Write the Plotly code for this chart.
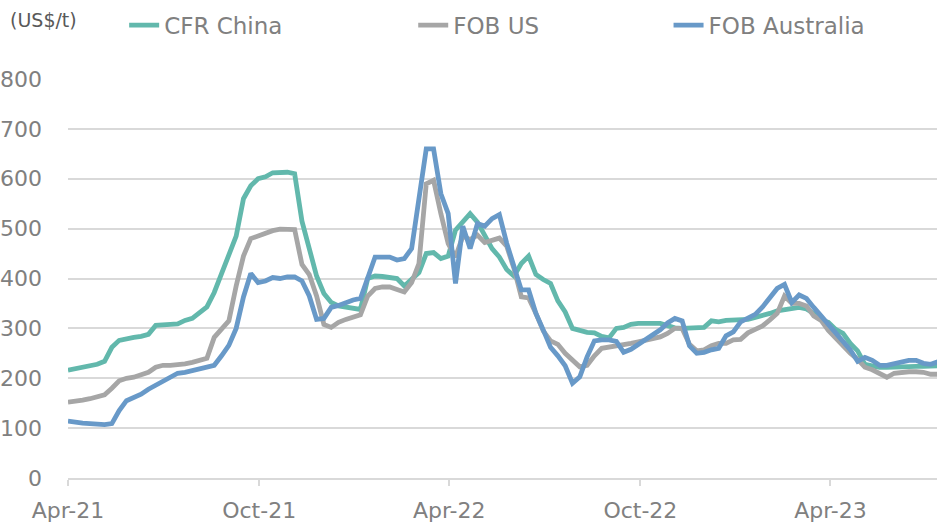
import pandas as pd
import plotly.graph_objects as go

dates = pd.date_range("2021-04-01", periods=120, freq="7D")

cfr_china = [
    216, 219, 222, 225, 228, 234, 262, 276, 280, 282,
    284, 288, 306, 308, 308, 309, 316, 320, 333, 343,
    372, 410, 445, 485, 560, 586, 600, 604, 612, 613,
    613, 610, 515, 460, 405, 370, 352, 345, 342, 340,
    338, 400, 405, 404, 403, 400, 385, 398, 412, 450,
    452, 440, 445, 497, 515, 530, 513, 487, 460, 443,
    418, 405, 430, 445, 408, 398, 390, 355, 333, 300,
    296, 292, 291, 284, 281, 300, 302, 308, 310, 311,
    310, 310, 306, 301, 300, 300, 300, 302, 315, 313,
    316, 316, 316, 318, 322, 325, 330, 335, 338, 341,
    342, 339, 330, 317, 312, 298, 290, 270, 255, 228,
    225, 222, 222, 223, 224, 224, 224, 224, 224, 225,
]

fob_us = [
    152, 153, 156, 159, 162, 167, 180, 195, 200, 202,
    207, 212, 222, 226, 226, 227, 229, 232, 236, 240,
    282, 300, 315, 385, 445, 480, 486, 492, 496, 499,
    499, 498, 428, 408, 365, 308, 302, 312, 318, 322,
    327, 365, 380, 383, 383, 378, 373, 392, 430, 590,
    597, 530, 470, 443, 485, 478, 487, 472, 477, 481,
    465, 420, 363, 361, 330, 295, 275, 268, 250, 235,
    223, 226, 245, 260, 262, 264, 267, 270, 273, 276,
    278, 283, 290, 300, 300, 268, 255, 257, 265, 270,
    270, 277, 278, 291, 298, 305, 317, 330, 365, 350,
    350, 345, 325, 316, 296, 280, 265, 250, 238, 222,
    217, 210, 202, 210, 212, 213, 213, 212, 208, 208,
]

fob_australia = [
    114, 111, 110, 109, 108, 107, 109, 135, 155, 162,
    168, 178, 186, 195, 203, 210, 212, 216, 220, 223,
    226, 245, 266, 300, 363, 410, 392, 395, 402, 400,
    403, 403, 395, 365, 318, 320, 342, 346, 352, 357,
    360, 405, 443, 443, 443, 437, 440, 460, 560, 660,
    660, 570, 530, 390, 505, 460, 510, 505, 520, 528,
    471, 420, 377, 377, 330, 297, 262, 245, 225, 190,
    203, 243, 275, 277, 277, 274, 252, 258, 268, 278,
    288, 297, 311, 320, 315, 265, 250, 252, 257, 260,
    285, 293, 313, 320, 328, 343, 362, 380, 388, 352,
    367, 360, 342, 325, 310, 293, 275, 257, 234, 242,
    236, 226, 226, 230, 234, 236, 236, 230, 228, 233,
]

series_names = ["CFR China", "FOB US", "FOB Australia"]
series_values = [cfr_china, fob_us, fob_australia]
colors = ["#62B8AC", "#A6A6A6", "#6899C8"]
legend_ids = ["legend", "legend2", "legend3"]

y_ticks = [0, 100, 200, 300, 400, 500, 600, 700, 800]

fig = go.Figure()
for name, vals, col, lg in zip(series_names, series_values, colors, legend_ids):
    fig.add_trace(go.Scatter(
        x=dates, y=vals, mode="lines", name=name,
        line=dict(color=col, width=4.8),
        legend=lg,
    ))

font_family = "DejaVu Sans, Verdana, sans-serif"
legend_common = dict(
    orientation="h", yanchor="top", xanchor="left",
    xref="container", yref="container",
    font=dict(family=font_family, size=23, color="#808080"),
    bgcolor="rgba(0,0,0,0)", borderwidth=0,
)

fig.update_layout(
    width=937, height=523,
    margin=dict(l=68, r=0, t=79, b=45, autoexpand=False),
    paper_bgcolor="white", plot_bgcolor="white",
    font=dict(family=font_family, color="#808080"),
    showlegend=True,
    legend=dict(x=0.1325, y=0.993, **legend_common),
    legend2=dict(x=0.441, y=0.993, **legend_common),
    legend3=dict(x=0.7135, y=0.993, **legend_common),
    xaxis=dict(
        type="date", automargin=False,
        range=["2021-04-01", "2023-07-12"],
        tick0="2021-04-01", dtick="M6", tickformat="%b-%y",
        showgrid=False, zeroline=False,
        showline=True, linecolor="#D9D9D9", linewidth=1.5,
        ticks="outside", ticklen=6, tickcolor="#D9D9D9", tickwidth=1.5,
        ticklabelstandoff=6,
        tickfont=dict(family=font_family, size=22, color="#808080"),
    ),
    yaxis=dict(
        range=[0, 800], tickvals=y_ticks, automargin=False,
        showgrid=True, gridcolor="#D9D9D9", gridwidth=1.5,
        zeroline=False, showline=False, ticks="",
        ticklabelstandoff=25,
        tickfont=dict(family=font_family, size=22, color="#808080"),
    ),
    annotations=[dict(
        text="(US$/t)", xref="paper", yref="paper",
        x=-0.069, y=1.148, xanchor="left", yanchor="middle",
        showarrow=False,
        font=dict(family=font_family, size=19, color="#595959"),
    )],
)

fig.write_html(
    "out.html",
    config={"displayModeBar": False},
    post_script="document.body.style.margin='0';document.body.style.overflow='hidden';",
)
